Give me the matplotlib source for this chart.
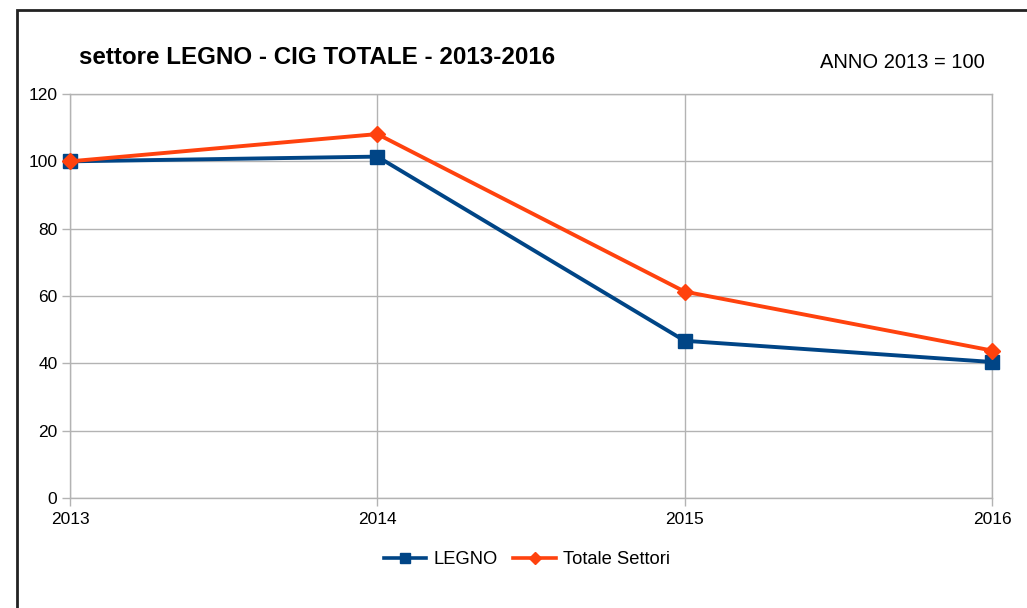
import matplotlib.pyplot as plt
from matplotlib.patches import Rectangle
from matplotlib.lines import Line2D

plt.rcParams['font.family'] = ['Liberation Sans', 'DejaVu Sans']

# Data (index, anno 2013 = 100)
years = [2013, 2014, 2015, 2016]
legno = [100, 101.4, 46.7, 40.4]
totale = [100, 108.1, 61.3, 43.8]
y_ticks = [0, 20, 40, 60, 80, 100, 120]

blue = '#004586'
orange = '#ff420e'
grid = '#b3b3b3'

fig = plt.figure(figsize=(10.27, 6.08), dpi=100)
ax = fig.add_axes([70 / 1027, 1 - 498 / 608, 922 / 1027, 404 / 608])

ax.plot(years, legno, color=blue, lw=2.8, marker='s', ms=10, clip_on=False, zorder=3)
ax.plot(years, totale, color=orange, lw=2.8, marker='D', ms=8, clip_on=False, zorder=4)

ax.set_xlim(2013, 2016)
ax.set_ylim(0, 120)
ax.set_xticks(years)
ax.set_xticklabels([str(y) for y in years])
ax.set_yticks(y_ticks)
ax.grid(True, color=grid, lw=1)
ax.set_axisbelow(True)
for s in ax.spines.values():
    s.set_color(grid)
    s.set_linewidth(1)
ax.tick_params(axis='both', colors=grid, labelcolor='black', labelsize=12.5, length=6, width=1)
ax.tick_params(axis='x', pad=4)
ax.tick_params(axis='y', pad=3)

fig.text(79 / 1027, 1 - 57 / 608, 'settore LEGNO - CIG TOTALE - 2013-2016',
         fontsize=17.4, fontweight='bold', va='center', ha='left')
fig.text(985 / 1027, 1 - 62 / 608, 'ANNO 2013 = 100', fontsize=14.5, va='center', ha='right')

handles = [
    Line2D([], [], color=blue, lw=2.6, marker='s', ms=7),
    Line2D([], [], color=orange, lw=2.6, marker='D', ms=6),
]
fig.legend(handles, ['LEGNO', 'Totale Settori'], loc='center',
           bbox_to_anchor=(527 / 1027, 1 - 560 / 608), ncol=2, frameon=False,
           fontsize=13.2, handlelength=2.3, handletextpad=0.4, columnspacing=0.85)

# outer frame
fig.add_artist(Rectangle((17 / 1027, -0.05), 1.1, 1 - 10 / 608 + 0.05,
                         transform=fig.transFigure, fill=False, ec='#222222', lw=2, clip_on=False))

fig.savefig('out.png', dpi=100)
